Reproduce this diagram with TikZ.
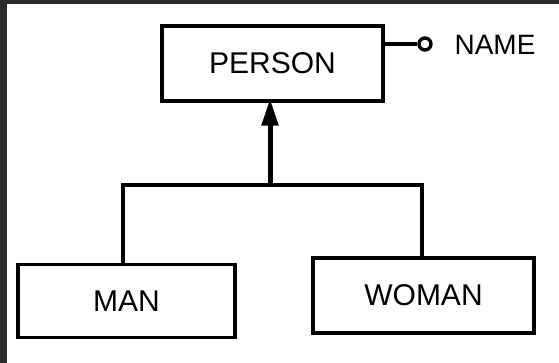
\documentclass[tikz,border=0pt]{standalone}
\usepackage{fontspec}
\setmainfont{Liberation Sans}
\usepackage{xcolor}
\usepackage{tikz}
\usetikzlibrary{arrows.meta}

\definecolor{frame}{HTML}{2B2B2B}

\tikzset{
  entity/.style={draw,line width=3.2pt,inner sep=0pt,
    font=\fontsize{30}{36}\selectfont},
  link/.style={line width=4pt},
  attr/.style={draw,circle,line width=3.4pt,minimum size=12pt,inner sep=0pt},
}

\begin{document}
\begin{tikzpicture}[x=1pt,y=-1pt]
% page with the dark strip at left and top
\fill[frame] (0,0) rectangle (559,363);
\fill[white] (7,4) rectangle (559,363);

\node[entity,minimum width=221pt,minimum height=75pt] (person) at (272.5,63.5) {PERSON};
\node[entity,minimum width=217pt,minimum height=73pt] (man) at (126.5,301) {MAN};
\node[entity,minimum width=221pt,minimum height=75pt] (woman) at (423.5,295.5) {WOMAN};

% attribute
\node[attr] (name) at (425,44) {};
\node[font=\fontsize{28}{34}\selectfont,anchor=west] (namelabel) at (451,45) {NAME};
\draw[link] (person.east |- name) -- (name);

% generalisation
\coordinate (split) at (270,185);
\draw[link] ([xshift=-3.5pt]man.north) |- (split) -| ([xshift=-1.5pt]woman.north);
\draw[link,line width=5pt,-{Triangle[length=27pt,width=16pt]}] (split) -- ([yshift=4pt]split |- person.south);
\end{tikzpicture}
\end{document}
